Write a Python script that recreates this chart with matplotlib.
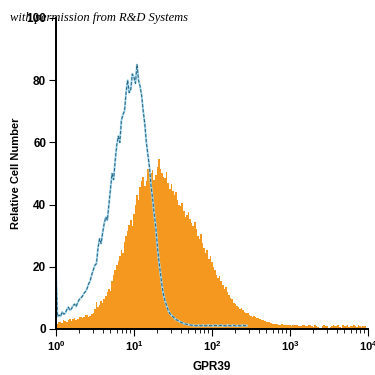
import numpy as np
import matplotlib
matplotlib.use("Agg")
import matplotlib.pyplot as plt

plt.rcParams['font.family'] = ['Liberation Sans', 'DejaVu Sans']
plt.rcParams['mathtext.fontset'] = 'custom'
plt.rcParams['mathtext.bf'] = 'Liberation Sans:bold'
plt.rcParams['mathtext.rm'] = 'Liberation Sans:bold'

# log10 of channel centres, 0.02 decade per channel
n_chan = 200
chan_log = np.arange(n_chan) * 0.02

# GPR39 stained cells (orange, filled)
gpr39 = [2.0, 1.6, 2.4, 2.1, 1.8, 2.8, 2.6, 2.2, 3.0, 3.3,
         2.7, 3.1, 3.5, 2.9, 3.2, 3.9, 4.0, 3.4, 3.8, 4.4,
         4.6, 4.0, 4.3, 4.9, 5.2, 6.5, 8.8, 7.2, 7.6, 8.9,
         8.4, 9.5, 10.5, 11.8, 13.0, 12.2, 15.5, 17.5, 19.0, 20.5,
         22.0, 23.5, 25.5, 24.5, 28.0, 30.0, 31.5, 33.5, 35.0, 33.0,
         37.0, 40.0, 43.0, 41.5, 45.5, 47.5, 49.0, 46.0, 47.5, 51.5,
         54.0, 50.0, 51.0, 48.0, 49.5, 52.0, 54.5, 51.5, 50.0, 49.0,
         48.5, 50.5, 47.0, 45.0, 46.5, 44.5, 43.0, 44.0, 41.5, 40.0,
         39.5, 40.5, 38.0, 36.0, 36.5, 37.5, 35.5, 34.0, 33.0, 34.5,
         32.0, 30.0, 29.0, 30.5, 27.5, 26.0, 24.5, 25.5, 22.5, 23.5,
         21.5, 20.0, 19.0, 17.5, 16.5, 17.0, 15.5, 14.0, 13.0, 13.5,
         12.0, 11.0, 10.0, 9.5, 8.5, 8.0, 7.5, 7.0, 6.5, 6.8,
         6.0, 5.5, 5.0, 5.2, 4.5, 4.2, 4.0, 4.1, 3.8, 3.4,
         3.5, 3.2, 3.0, 2.8, 2.6, 2.4, 2.2, 2.3, 2.0, 1.7,
         1.6, 1.7, 1.5, 1.3, 1.3, 1.5, 1.4, 1.2, 1.2, 1.4,
         1.3, 1.1, 1.2, 1.3, 1.4, 1.2, 1.1, 1.0, 1.3, 1.2,
         1.0, 0.9, 1.2, 1.3, 0.8, 0.5, 1.3, 1.1, 0.6, 0.0,
         0.4, 1.0, 1.2, 1.1, 0.9, 0.4, 0.5, 0.9, 1.2, 1.0,
         1.1, 1.3, 0.6, 0.3, 1.2, 1.1, 1.0, 1.3, 0.5, 0.8,
         1.1, 1.2, 0.8, 0.6, 1.2, 1.0, 0.6, 1.1, 0.9, 0.7]

# isotype control (blue, dashed outline)
control = [20.0, 4.0, 4.5, 4.0, 5.5, 4.8, 5.0, 6.2, 7.0, 6.0,
           6.5, 7.5, 8.0, 7.2, 8.5, 9.5, 10.0, 10.5, 11.5, 12.0,
           13.0, 14.5, 15.5, 17.5, 19.0, 20.5, 21.0, 26.0, 29.0, 27.5,
           31.0, 34.0, 36.0, 35.0, 40.0, 45.0, 50.0, 48.0, 54.0, 59.0,
           62.0, 60.0, 67.0, 69.0, 70.0, 76.0, 80.0, 76.0, 77.0, 82.0,
           81.0, 79.0, 85.0, 80.0, 78.0, 75.0, 70.0, 66.0, 60.0, 56.0,
           52.0, 46.0, 42.0, 37.0, 33.0, 27.0, 22.0, 18.0, 14.0, 11.0,
           9.0, 7.5, 6.0, 5.0, 4.5, 4.0, 3.5, 3.0, 2.8, 2.5,
           2.2, 2.0, 1.8, 1.6, 1.5, 1.4, 1.3, 1.2, 1.2, 1.1,
           1.0, 1.2, 1.1, 1.0, 1.2, 1.1, 1.0, 1.1, 1.2, 1.0,
           1.1, 1.0, 1.2, 1.1, 1.0, 1.1, 1.2, 1.0, 1.1, 1.0,
           1.2, 1.1, 1.0, 1.1, 1.2, 1.0, 1.0, 1.1, 1.0, 1.1,
           1.2, 1.0, 1.1, 1.0]

x_ticks = [1, 10, 100, 1000, 10000]
x_ticklabels = [r'$\mathbf{10^{0}}$', r'$\mathbf{10^{1}}$', r'$\mathbf{10^{2}}$',
                r'$\mathbf{10^{3}}$', r'$\mathbf{10^{4}}$']
y_ticks = [0, 20, 40, 60, 80, 100]

fig = plt.figure(figsize=(3.75, 3.75), dpi=100)
ax = fig.add_axes([0.149, 0.1227, 0.832, 0.8293])

xs = 10 ** chan_log
ax.fill_between(xs, gpr39, step='mid', color='#f5981f', lw=0)

xc = xs[:len(control)]
ax.plot(xc, control, color='#a9dcef', lw=1.5, solid_capstyle='butt')
ax.plot(xc, control, color='#2e6784', lw=0.8, dashes=(3, 1.5))

ax.set_xscale('log')
ax.set_xlim(1, 10000)
ax.set_ylim(0, 100)
ax.set_xticks(x_ticks)
ax.set_xticklabels(x_ticklabels, fontsize=8)
ax.set_yticks(y_ticks)
ax.set_yticklabels([str(v) for v in y_ticks], fontsize=8.5, fontweight='bold')

for s in ['top', 'right']:
    ax.spines[s].set_visible(False)
for s in ['left', 'bottom']:
    ax.spines[s].set_linewidth(1.4)

ax.tick_params(axis='both', which='major', direction='out', length=5, width=0.8, pad=2)
ax.tick_params(axis='x', which='minor', direction='out', length=3, width=0.6)

ax.set_xlabel('GPR39', fontsize=8.5, fontweight='bold', labelpad=6)
ax.set_ylabel('Relative Cell Number', fontsize=8, fontweight='bold', labelpad=4)

fig.text(0.027, 0.945, 'with permission from R&D Systems', fontsize=9,
         family='Liberation Serif', style='italic')

fig.savefig('out.png', dpi=100)
